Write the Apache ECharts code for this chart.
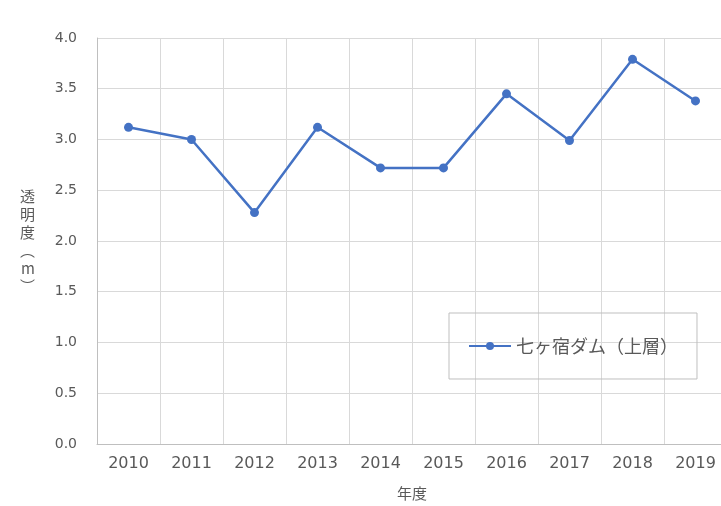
<!DOCTYPE html>
<html><head><meta charset="utf-8">
<script src="https://cdn.jsdelivr.net/npm/echarts@6/dist/echarts.min.js"></script>
<style>html,body{margin:0;padding:0;background:#fff;overflow:hidden;width:721px;height:506px}#c{width:728px;height:506px}</style>
</head><body><div id="c"></div>
<script>
const categories = ['2010','2011','2012','2013','2014','2015','2016','2017','2018','2019'];
const values = [3.12, 3.0, 2.28, 3.12, 2.72, 2.72, 3.45, 2.99, 3.79, 3.38];
const seriesName = '七ヶ宿ダム（上層）';
const yName = '透\n明\n度\n︵\nm\n︶';
const xName = '年度';

const chart = echarts.init(document.getElementById('c'));
chart.setOption({
  backgroundColor: '#fff',
  animation: false,
  grid: { left: 97, top: 38, width: 630, bottom: 60 },
  legend: {
    left: 449, top: 313,
    padding: [24, 19, 24, 19],
    borderColor: '#bfbfbf', borderWidth: 1,
    itemWidth: 42, itemHeight: 10, itemGap: 6,
    textStyle: { fontSize: 18, color: '#595959', fontFamily: 'Noto Sans CJK JP' },
    data: [seriesName]
  },
  xAxis: {
    type: 'category', data: categories,
    name: xName, nameLocation: 'middle', nameGap: 42,
    nameTextStyle: { fontSize: 15, color: '#595959', fontFamily: 'Noto Sans CJK JP' },
    axisLine: { lineStyle: { color: '#bfbfbf' } },
    axisTick: { show: false },
    axisLabel: { fontSize: 16, color: '#595959', fontFamily: 'DejaVu Sans', margin: 12 },
    splitLine: { show: true, lineStyle: { color: '#d9d9d9' } }
  },
  yAxis: {
    type: 'value', min: 0, max: 4, interval: 0.5,
    name: yName, nameLocation: 'middle', nameGap: 62, nameRotate: 0,
    nameTextStyle: { fontSize: 15, color: '#595959', fontFamily: 'Noto Sans CJK JP', lineHeight: 18 },
    axisLine: { show: true, lineStyle: { color: '#bfbfbf' } },
    axisTick: { show: false },
    axisLabel: { fontSize: 14, color: '#595959', fontFamily: 'DejaVu Sans', margin: 20,
      formatter: v => v.toFixed(1) },
    splitLine: { lineStyle: { color: '#d9d9d9' } }
  },
  series: [{
    name: seriesName, type: 'line', data: values,
    symbol: 'circle', symbolSize: 9,
    itemStyle: { color: '#4472C4' },
    lineStyle: { color: '#4472C4', width: 2.5 }
  }]
});
</script></body></html>
